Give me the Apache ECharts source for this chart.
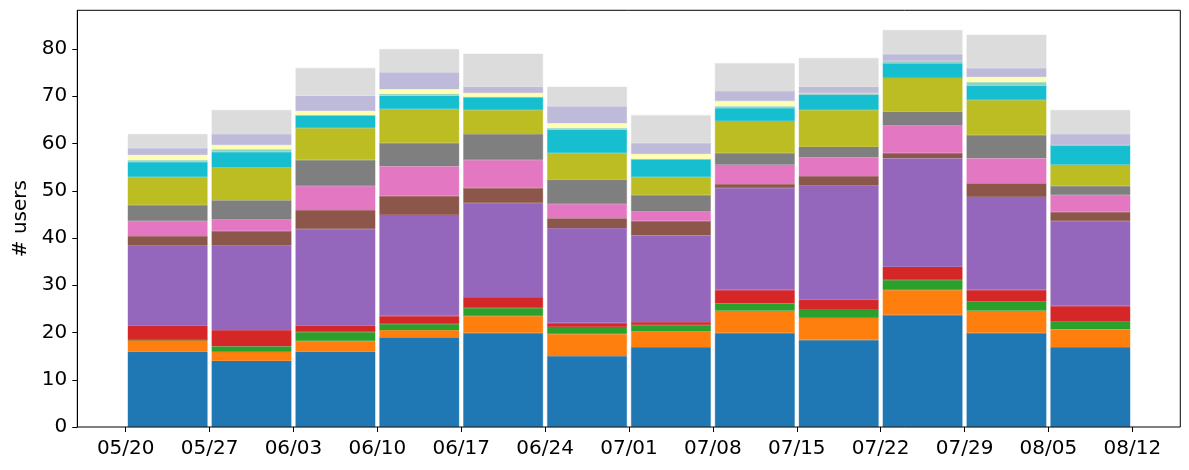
<!DOCTYPE html>
<html>
<head>
<meta charset="utf-8">
<script src="https://cdn.jsdelivr.net/npm/echarts@6/dist/echarts.min.js"></script>
<style>
html,body{margin:0;padding:0;background:#fff;}
#chart{width:1189px;height:470px;}
</style>
</head>
<body>
<div id="chart"></div>
<script>
// Week tick labels (boundaries between bars)
const tickLabels = ['05/20','05/27','06/03','06/10','06/17','06/24','07/01','07/08','07/15','07/22','07/29','08/05','08/12'];
// One bar per week (between consecutive ticks)
const weeks = ['05/20','05/27','06/03','06/10','06/17','06/24','07/01','07/08','07/15','07/22','07/29','08/05'];

// Stacked series, bottom to top
const s01 = [15.9, 14.0, 15.9, 19.0, 19.9, 15.0, 16.9, 19.9, 18.4, 23.7, 19.9, 16.9];
const s02 = [2.5, 1.9, 2.3, 1.5, 3.6, 4.7, 3.4, 4.7, 4.7, 5.3, 4.7, 3.8];
const s03 = [0, 1.2, 1.9, 1.3, 1.7, 1.5, 1.3, 1.6, 1.7, 2.1, 1.9, 1.7];
const s04 = [3.0, 3.4, 1.3, 1.7, 2.3, 0.8, 0.6, 2.8, 2.1, 2.8, 2.5, 3.2];
const s05 = [17.1, 18.0, 20.5, 21.4, 19.9, 20.1, 18.4, 21.6, 24.3, 23.0, 19.7, 18.0];
const s06 = [1.9, 3.0, 4.0, 4.0, 3.2, 2.1, 3.0, 0.8, 1.9, 1.1, 2.9, 1.9];
const s07 = [3.2, 2.5, 5.1, 6.3, 5.9, 3.0, 2.1, 4.1, 4.0, 5.9, 5.3, 3.6];
const s08 = [3.4, 4.0, 5.5, 4.9, 5.5, 5.1, 3.4, 2.5, 2.2, 2.8, 4.9, 1.9];
const s09 = [5.9, 7.0, 6.8, 7.2, 5.1, 5.7, 3.8, 6.8, 7.8, 7.2, 7.4, 4.5];
const s10 = [3.2, 3.2, 2.7, 2.8, 2.75, 4.9, 3.8, 2.7, 3.2, 3.1, 3.0, 4.2];
const s11 = [0.4, 0.6, 0, 0.4, 0, 0.4, 0, 0.4, 0.4, 0.5, 0.8, 0];
const s12 = [1.1, 0.9, 0.9, 1.0, 0.85, 1.0, 1.1, 1.1, 0, 0, 1.1, 0];
const s13 = [1.45, 2.3, 3.2, 3.6, 1.3, 3.6, 2.3, 2.1, 1.3, 1.45, 1.9, 2.3];
const s14 = [2.95, 5.1, 5.9, 4.9, 7.0, 4.1, 5.9, 5.9, 6.1, 5.05, 7.0, 5.1];

const seriesValues = [s01,s02,s03,s04,s05,s06,s07,s08,s09,s10,s11,s12,s13,s14];
const colors = ['#1f77b4','#ff7f0e','#2ca02c','#d62728','#9467bd','#8c564b','#e377c2','#7f7f7f','#bcbd22','#17becf','#8dd3c7','#ffffb3','#bebada','#dcdcdc'];

const FONT = 'DejaVu Sans';
const chart = echarts.init(document.getElementById('chart'), null, {renderer:'canvas'});

const gTop = 10.3, gBottom = 43;
const option = {
  animation: false,
  backgroundColor: '#fff',
  textStyle: {fontFamily: FONT},
  grid: [
    {left: 77.3, right: 8.7, top: gTop, bottom: gBottom, show: true, borderColor: '#000', borderWidth: 1, backgroundColor: 'transparent', z: 10},
    {left: 125.7, right: 56.7, top: gTop, bottom: gBottom}
  ],
  xAxis: [
    {gridIndex: 0, type: 'value', min: 0, max: 1, show: false},
    {gridIndex: 1, type: 'category', data: weeks, show: false, boundaryGap: true},
    {gridIndex: 1, type: 'category', data: tickLabels, boundaryGap: false, position: 'bottom',
     axisLine: {show: false},
     axisTick: {show: true, length: 5, lineStyle: {color: '#000', width: 1}},
     axisLabel: {fontSize: 20, color: '#000', fontFamily: FONT, margin: 12, interval: 0},
     splitLine: {show: false}}
  ],
  yAxis: [
    {gridIndex: 0, type: 'value', min: 0, max: 88.2, interval: 10,
     axisLine: {show: true, lineStyle: {color: '#000', width: 1}},
     axisTick: {show: true, length: 5, lineStyle: {color: '#000'}},
     axisLabel: {fontSize: 20, color: '#000', fontFamily: FONT, margin: 10, showMaxLabel: false},
     splitLine: {show: false},
     name: '# users', nameLocation: 'middle', nameGap: 47, nameRotate: 90,
     nameTextStyle: {fontSize: 20, color: '#000', fontFamily: FONT}},
    {gridIndex: 1, type: 'value', min: 0, max: 88.2, show: false, splitLine: {show: false}}
  ],
  series: seriesValues.map((vals, i) => ({
    type: 'bar',
    name: 'g' + (i + 1),
    stack: 'users',
    xAxisIndex: 1,
    yAxisIndex: 1,
    data: vals,
    barCategoryGap: '5%',
    itemStyle: {color: colors[i], borderColor: colors[i], borderWidth: 0.4},
    emphasis: {disabled: true}
  }))
};
chart.setOption(option);
</script>
</body>
</html>
